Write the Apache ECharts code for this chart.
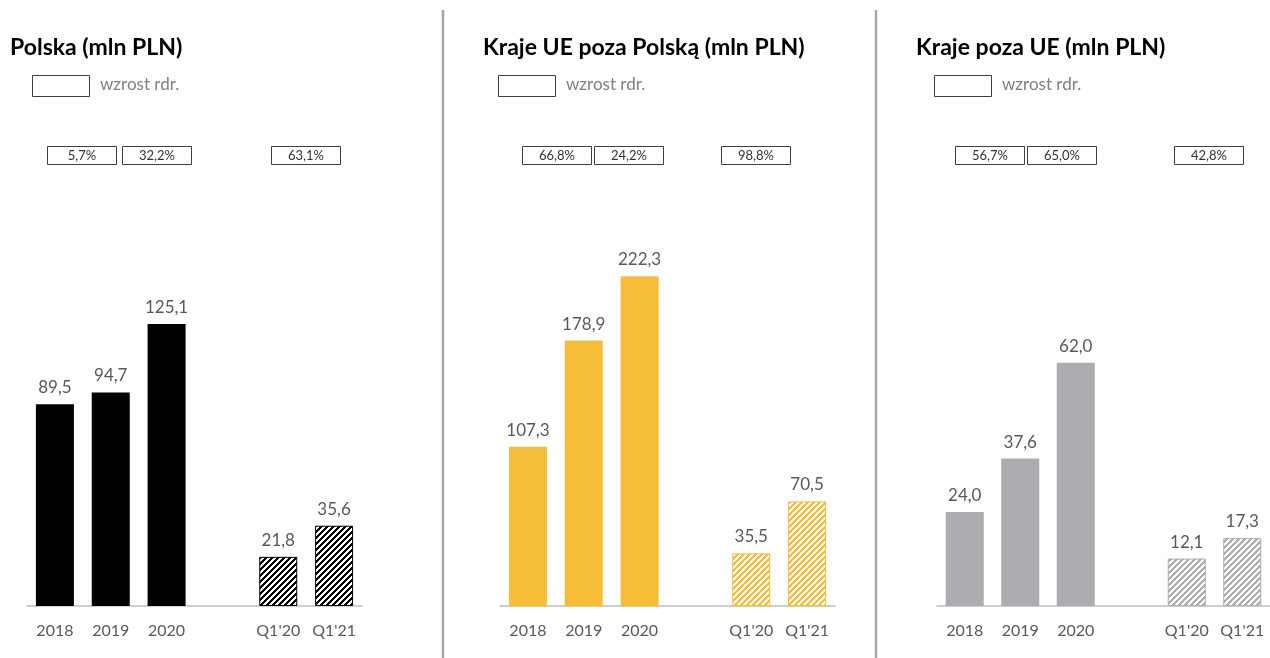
<!DOCTYPE html>
<html>
<head>
<meta charset="utf-8">
<script src="https://cdn.jsdelivr.net/npm/echarts@6/dist/echarts.min.js"></script>
<style>
  html, body { margin: 0; padding: 0; background: #fff; }
  #main { width: 1270px; height: 658px; }
</style>
</head>
<body>
<div id="main"></div>
<script>
// dane
var categories = ['2018', '2019', '2020', '', "Q1'20", "Q1'21"];
var polskaYears = [89.5, 94.7, 125.1];
var polskaQ = [21.8, 35.6];
var uePolskiYears = [107.3, 178.9, 222.3];
var uePolskiQ = [35.5, 70.5];
var pozaUeYears = [24.0, 37.6, 62.0];
var pozaUeQ = [12.1, 17.3];
var titles = ['Polska (mln PLN)', 'Kraje UE poza Polską (mln PLN)', 'Kraje poza UE (mln PLN)'];
var growthPolska = ['5,7%', '32,2%', '63,1%'];
var growthUe = ['66,8%', '24,2%', '98,8%'];
var growthPozaUe = ['56,7%', '65,0%', '42,8%'];

var FONT = 'Lato, "Open Sans", sans-serif';
var panels = [
  { left: 27, titleX: 10, legendX: 32, max: 200, color: '#000000', years: polskaYears, q: polskaQ, growth: growthPolska, boxes: [47, 122, 271] },
  { left: 500, titleX: 483, legendX: 498, max: 304, color: '#F6BE37', years: uePolskiYears, q: uePolskiQ, growth: growthUe, boxes: [522, 594, 721] },
  { left: 937, titleX: 916, legendX: 934, max: 115, color: '#ABADB0', years: pozaUeYears, q: pozaUeQ, growth: growthPozaUe, boxes: [955, 1027, 1174] }
];

// wzor ukosnych pasow
function makeHatch(color) {
  var c = document.createElement('canvas');
  c.width = 6; c.height = 6;
  var ctx = c.getContext('2d');
  ctx.fillStyle = '#ffffff';
  ctx.fillRect(0, 0, 6, 6);
  ctx.fillStyle = color;
  for (var x = 0; x < 6; x++) {
    for (var y = 0; y < 6; y++) {
      if ((x + y) % 6 < 3) ctx.fillRect(x, y, 1, 1);
    }
  }
  return c;
}

function fmt(p) { return p.value.toFixed(1).replace('.', ','); }

var grids = [], xAxes = [], yAxes = [], series = [], title = [], graphic = [];

panels.forEach(function (p, i) {
  grids.push({ left: p.left, width: 335, top: 155, bottom: 52 });
  xAxes.push({
    gridIndex: i, type: 'category', data: categories,
    axisLine: { lineStyle: { color: '#BFBFBF', width: 1.5 } },
    axisTick: { show: false },
    axisLabel: { color: '#595959', fontSize: 16, margin: 17, fontFamily: FONT, interval: 0 }
  });
  yAxes.push({ gridIndex: i, type: 'value', min: 0, max: p.max, show: false, splitLine: { show: false } });

  var solid = p.years.concat([null, null, null]);
  var hatch = [null, null, null, null].concat(p.q);
  var label = { show: true, position: 'top', distance: 8, color: '#595959', fontSize: 17, fontFamily: FONT, formatter: fmt };
  series.push({
    type: 'bar', xAxisIndex: i, yAxisIndex: i, data: solid, barWidth: 38, barGap: '-100%',
    itemStyle: { color: p.color }, label: label, silent: true
  });
  series.push({
    type: 'bar', xAxisIndex: i, yAxisIndex: i, data: hatch, barWidth: 38, barGap: '-100%',
    itemStyle: { color: { image: makeHatch(p.color), repeat: 'repeat' }, borderColor: p.color, borderWidth: 1 },
    label: label, silent: true
  });

  title.push({
    text: titles[i], left: p.titleX - 5, top: 31,
    textStyle: { fontSize: 23, fontWeight: 'bold', color: '#000', fontFamily: FONT }
  });

  // legenda
  graphic.push({ type: 'rect', left: p.legendX, top: 75, shape: { width: 57, height: 21 }, style: { fill: '#fff', stroke: '#404040', lineWidth: 1 } });
  graphic.push({ type: 'text', left: p.legendX + 68, top: 76, style: { text: 'wzrost rdr.', fill: '#7F7F7F', fontSize: 17, fontFamily: FONT } });

  // wzrost rdr.
  p.boxes.forEach(function (bx, k) {
    graphic.push({
      type: 'group', left: bx, top: 146,
      children: [
        { type: 'rect', shape: { width: 69, height: 18 }, style: { fill: '#fff', stroke: '#404040', lineWidth: 1 } },
        { type: 'text', x: 34.5, y: 9.5, style: { text: p.growth[k], fill: '#333', fontSize: 13, fontFamily: FONT, align: 'center', verticalAlign: 'middle' } }
      ]
    });
  });
});

// separatory
[443, 876].forEach(function (x) {
  graphic.push({ type: 'line', shape: { x1: x, y1: 10, x2: x, y2: 658 }, style: { stroke: '#A6A6A6', lineWidth: 2.5 } });
});

var chart = echarts.init(document.getElementById('main'));
chart.setOption({
  animation: false,
  backgroundColor: '#fff',
  title: title,
  grid: grids,
  xAxis: xAxes,
  yAxis: yAxes,
  series: series,
  graphic: graphic
});
</script>
</body>
</html>
